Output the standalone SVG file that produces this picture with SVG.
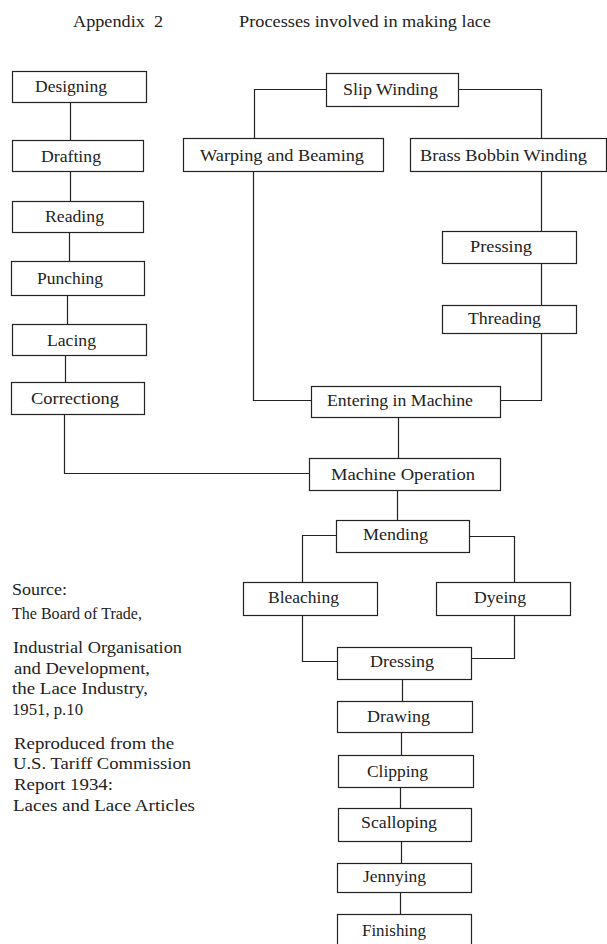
<svg xmlns="http://www.w3.org/2000/svg" width="607" height="944" viewBox="0 0 607 944">
<style>
.box{fill:#fff;stroke:#222;stroke-width:1.2}
.lbl{font-family:"Liberation Serif","Times New Roman",serif;font-size:17px;fill:#222}
.src{font-family:"Liberation Serif","Times New Roman",serif;font-size:16.5px;fill:#222}
.ttl{font-family:"Liberation Serif","Times New Roman",serif;font-size:17px;fill:#222}
.con{fill:none;stroke:#222;stroke-width:1.2}
</style>
<rect width="607" height="944" fill="#fff"/>
<g id="titles">
<text class="ttl" x="73" y="27" textLength="90" lengthAdjust="spacingAndGlyphs" xml:space="preserve">Appendix  2</text>
<text class="ttl" x="239" y="27" textLength="252" lengthAdjust="spacingAndGlyphs">Processes involved in making lace</text>
</g>
<g id="connectors">
<path class="con" d="M70.5 102V140M70.5 171V201M69.5 232V261M67.5 295V324M65.5 355V382"/>
<path class="con" d="M64.5 414V473.5H309"/>
<path class="con" d="M326 89.5H254.5V138M459 89.5H541.5V138"/>
<path class="con" d="M253.5 171V400.5H311"/>
<path class="con" d="M541.5 171V231M541.5 263V305"/>
<path class="con" d="M541.5 333V400.5H501"/>
<path class="con" d="M398.5 417V458M397.5 490V520"/>
<path class="con" d="M336 535.5H302.5V582M469 536.5H514.5V582"/>
<path class="con" d="M302.5 615V661.5H337M514.5 615V658.5H471"/>
<path class="con" d="M402.5 679V701M401.5 732V755M400.5 787V808M401.5 841V863M400.5 892V914"/>
</g>
<g id="designing"><rect class="box" x="12.5" y="71.5" width="134" height="31"/><text class="lbl" x="35" y="92" textLength="72" lengthAdjust="spacingAndGlyphs">Designing</text></g>
<g id="drafting"><rect class="box" x="12.5" y="140.5" width="131" height="31"/><text class="lbl" x="41" y="162" textLength="60" lengthAdjust="spacingAndGlyphs">Drafting</text></g>
<g id="reading"><rect class="box" x="12.5" y="201.5" width="131" height="31"/><text class="lbl" x="45" y="222" textLength="59" lengthAdjust="spacingAndGlyphs">Reading</text></g>
<g id="punching"><rect class="box" x="11.5" y="261.5" width="133" height="34"/><text class="lbl" x="37" y="284" textLength="66" lengthAdjust="spacingAndGlyphs">Punching</text></g>
<g id="lacing"><rect class="box" x="12.5" y="324.5" width="134" height="31"/><text class="lbl" x="47" y="346" textLength="49" lengthAdjust="spacingAndGlyphs">Lacing</text></g>
<g id="correctiong"><rect class="box" x="11.5" y="382.5" width="133" height="32"/><text class="lbl" x="31" y="404" textLength="88" lengthAdjust="spacingAndGlyphs">Correctiong</text></g>
<g id="slip-winding"><rect class="box" x="326.5" y="73.5" width="132" height="33"/><text class="lbl" x="343" y="95" textLength="95" lengthAdjust="spacingAndGlyphs">Slip Winding</text></g>
<g id="warping"><rect class="box" x="183.5" y="138.5" width="200" height="33"/><text class="lbl" x="200" y="161" textLength="164" lengthAdjust="spacingAndGlyphs">Warping and Beaming</text></g>
<g id="brass"><rect class="box" x="410.5" y="138.5" width="196" height="33"/><text class="lbl" x="420" y="161" textLength="167" lengthAdjust="spacingAndGlyphs">Brass Bobbin Winding</text></g>
<g id="pressing"><rect class="box" x="442.5" y="231.5" width="134" height="32"/><text class="lbl" x="470" y="252" textLength="62" lengthAdjust="spacingAndGlyphs">Pressing</text></g>
<g id="threading"><rect class="box" x="442.5" y="305.5" width="134" height="28"/><text class="lbl" x="468" y="324" textLength="73" lengthAdjust="spacingAndGlyphs">Threading</text></g>
<g id="entering"><rect class="box" x="311.5" y="386.5" width="189" height="31"/><text class="lbl" x="327" y="406" textLength="146" lengthAdjust="spacingAndGlyphs">Entering in Machine</text></g>
<g id="machine-operation"><rect class="box" x="309.5" y="458.5" width="191" height="32"/><text class="lbl" x="331" y="480" textLength="144" lengthAdjust="spacingAndGlyphs">Machine Operation</text></g>
<g id="mending"><rect class="box" x="336.5" y="520.5" width="133" height="32"/><text class="lbl" x="363" y="540" textLength="65" lengthAdjust="spacingAndGlyphs">Mending</text></g>
<g id="bleaching"><rect class="box" x="243.5" y="582.5" width="134" height="33"/><text class="lbl" x="268" y="603" textLength="71" lengthAdjust="spacingAndGlyphs">Bleaching</text></g>
<g id="dyeing"><rect class="box" x="436.5" y="582.5" width="134" height="33"/><text class="lbl" x="474" y="603" textLength="52" lengthAdjust="spacingAndGlyphs">Dyeing</text></g>
<g id="dressing"><rect class="box" x="337.5" y="647.5" width="134" height="32"/><text class="lbl" x="370" y="667" textLength="64" lengthAdjust="spacingAndGlyphs">Dressing</text></g>
<g id="drawing"><rect class="box" x="337.5" y="701.5" width="135" height="31"/><text class="lbl" x="367" y="722" textLength="63" lengthAdjust="spacingAndGlyphs">Drawing</text></g>
<g id="clipping"><rect class="box" x="338.5" y="755.5" width="135" height="32"/><text class="lbl" x="367" y="777" textLength="61" lengthAdjust="spacingAndGlyphs">Clipping</text></g>
<g id="scalloping"><rect class="box" x="338.5" y="808.5" width="133" height="33"/><text class="lbl" x="361" y="828" textLength="76" lengthAdjust="spacingAndGlyphs">Scalloping</text></g>
<g id="jennying"><rect class="box" x="337.5" y="863.5" width="134" height="29"/><text class="lbl" x="363" y="882" textLength="63" lengthAdjust="spacingAndGlyphs">Jennying</text></g>
<g id="finishing"><rect class="box" x="337.5" y="914.5" width="134" height="34"/><text class="lbl" x="362" y="936" textLength="64" lengthAdjust="spacingAndGlyphs">Finishing</text></g>
<g id="source">
<text class="src" x="12" y="595" textLength="55" lengthAdjust="spacingAndGlyphs">Source:</text>
<text class="src" x="12" y="619" textLength="130" lengthAdjust="spacingAndGlyphs">The Board of Trade,</text>
<text class="src" x="13" y="653" textLength="169" lengthAdjust="spacingAndGlyphs">Industrial Organisation</text>
<text class="src" x="14" y="674" textLength="136" lengthAdjust="spacingAndGlyphs">and Development,</text>
<text class="src" x="12" y="694" textLength="136" lengthAdjust="spacingAndGlyphs">the Lace Industry,</text>
<text class="src" x="12" y="715" textLength="71" lengthAdjust="spacingAndGlyphs">1951, p.10</text>
<text class="src" x="14" y="749" textLength="160" lengthAdjust="spacingAndGlyphs">Reproduced from the</text>
<text class="src" x="13" y="769" textLength="178" lengthAdjust="spacingAndGlyphs">U.S. Tariff Commission</text>
<text class="src" x="14" y="790" textLength="99" lengthAdjust="spacingAndGlyphs">Report 1934:</text>
<text class="src" x="13" y="811" textLength="182" lengthAdjust="spacingAndGlyphs">Laces and Lace Articles</text>
</g>
</svg>
